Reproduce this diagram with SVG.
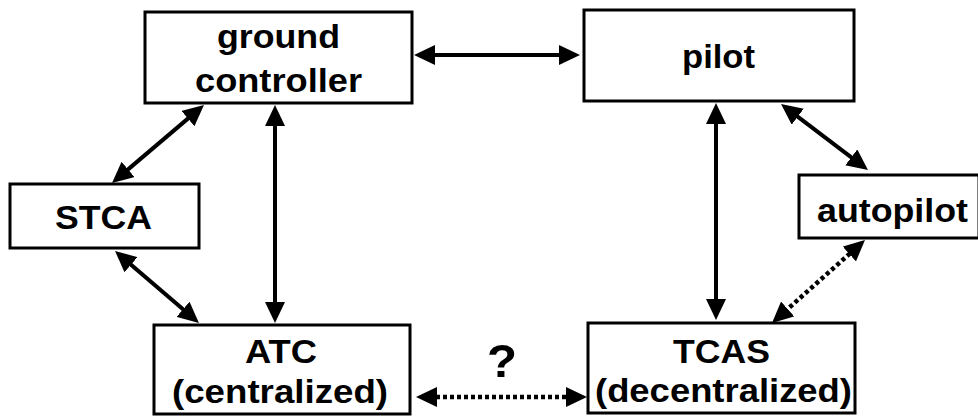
<svg xmlns="http://www.w3.org/2000/svg" width="978" height="417" viewBox="0 0 978 417">
<style>
.box{fill:#fff;stroke:#000;stroke-width:3}
.t{font-family:"Liberation Sans",Arial,sans-serif;font-weight:bold;font-size:34px;fill:#000;text-anchor:middle}
.c{stroke:#000;stroke-width:4;fill:none;marker-start:url(#ah);marker-end:url(#ah)}
.d{stroke-dasharray:4 3;stroke-width:4.5}
</style>
<defs>
<marker id="ah" viewBox="0 0 21 20" refX="15" refY="10" markerWidth="21" markerHeight="20" markerUnits="userSpaceOnUse" orient="auto-start-reverse">
<path d="M0,0 L21,10 L0,20 z" fill="#000"/>
</marker>
</defs>
<rect width="978" height="417" fill="#fff"/>
<g id="connectors">
<line class="c" x1="420" y1="55" x2="574" y2="55"/>
<line class="c" x1="116.6" y1="179.1" x2="199.4" y2="108.9"/>
<line class="c" x1="275" y1="111" x2="275" y2="317"/>
<line class="c" x1="119.6" y1="254.9" x2="194.4" y2="319.1"/>
<line class="c" x1="716" y1="109" x2="716" y2="314"/>
<line class="c" x1="785.8" y1="107.6" x2="863.2" y2="166.4"/>
<line class="c d" x1="860.5" y1="244" x2="776.5" y2="319"/>
<line class="c d" x1="422" y1="397" x2="581" y2="397"/>
</g>
<g id="ground-controller">
<rect class="box" x="145" y="12" width="267" height="91"/>
<text class="t" x="278.5" y="48" textLength="123" lengthAdjust="spacingAndGlyphs">ground</text>
<text class="t" x="278.5" y="92" textLength="167" lengthAdjust="spacingAndGlyphs">controller</text>
</g>
<g id="pilot">
<rect class="box" x="584" y="10" width="270" height="91"/>
<text class="t" x="718.5" y="68" textLength="73" lengthAdjust="spacingAndGlyphs">pilot</text>
</g>
<g id="stca">
<rect class="box" x="10" y="184" width="189" height="64"/>
<text class="t" x="103.5" y="229" textLength="97" lengthAdjust="spacingAndGlyphs">STCA</text>
</g>
<g id="autopilot">
<rect class="box" x="799" y="175" width="180" height="63"/>
<text class="t" x="892.5" y="222" textLength="151" lengthAdjust="spacingAndGlyphs">autopilot</text>
</g>
<g id="atc">
<rect class="box" x="154" y="325" width="256" height="89"/>
<text class="t" x="281" y="363" textLength="72" lengthAdjust="spacingAndGlyphs">ATC</text>
<text class="t" x="280" y="403" textLength="216" lengthAdjust="spacingAndGlyphs">(centralized)</text>
</g>
<g id="tcas">
<rect class="box" x="588" y="323" width="267" height="90"/>
<text class="t" x="721.5" y="363" textLength="97" lengthAdjust="spacingAndGlyphs">TCAS</text>
<text class="t" x="723.5" y="402" textLength="257" lengthAdjust="spacingAndGlyphs">(decentralized)</text>
</g>
<text class="t" x="502" y="377" style="font-size:47px" textLength="30" lengthAdjust="spacingAndGlyphs">?</text>
</svg>
